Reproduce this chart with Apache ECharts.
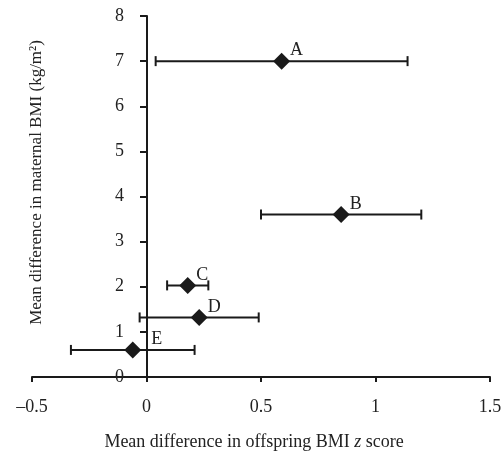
<!DOCTYPE html>
<html>
<head>
<meta charset="utf-8">
<script src="https://cdn.jsdelivr.net/npm/echarts@6/dist/echarts.min.js"></script>
<style>
  html, body { margin: 0; padding: 0; background: #fff; }
  #chart { width: 501px; height: 453px; }
</style>
</head>
<body>
<div id="chart"></div>
<script>
// studies and their estimates
var names = ['A', 'B', 'C', 'D', 'E'];
var zScore = [0.59, 0.85, 0.18, 0.23, -0.06];   // mean diff in offspring BMI z score
var zLow = [0.04, 0.50, 0.09, -0.03, -0.33];
var zHigh = [1.14, 1.20, 0.27, 0.49, 0.21];
var maternalBmi = [7.0, 3.6, 2.03, 1.32, 0.6];  // mean diff in maternal BMI

var xTicks = [-0.5, 0, 0.5, 1, 1.5];
var yTicks = [0, 1, 2, 3, 4, 5, 6, 7, 8];

var ink = '#1a1a1a';
var serif = '"Liberation Serif", "DejaVu Serif", serif';

var chart = echarts.init(document.getElementById('chart'));

var points = names.map(function(n, i) {
    var p = { name: n, value: [zScore[i], maternalBmi[i]] };
    // E sits beside the y axis, its letter is pushed right
    if (n == 'E') p.label = { position: [27, -11] };
    return p;
});
var bars = names.map(function(n, i) {
    return [zLow[i], zHigh[i], maternalBmi[i]];
});

var option = {
    backgroundColor: '#fff',
    animation: false,
    grid: { left: 32, right: 11, top: 16, bottom: 76, outerBoundsMode: 'none', containLabel: false },
    xAxis: {
        type: 'value',
        min: xTicks[0],
        max: xTicks[xTicks.length - 1],
        interval: 0.5,
        splitLine: { show: false },
        axisLine: { onZero: false, lineStyle: { color: ink, width: 2 } },
        axisTick: { length: 5, lineStyle: { color: ink, width: 2 } },
        axisLabel: {
            margin: 21,
            color: '#222',
            fontFamily: serif,
            fontSize: 18,
            formatter: function(v) {
                return v < 0 ? '\u2013' + Math.abs(v) : String(v);
            }
        },
        name: '{n|Mean difference in offspring BMI }{i|z}{n| score}',
        nameLocation: 'middle',
        nameGap: 56,
        nameTextStyle: {
            padding: [0, 14, 0, 0],
            rich: {
                n: { fontFamily: serif, fontSize: 18, color: '#222' },
                i: { fontFamily: serif, fontSize: 18, color: '#222', fontStyle: 'italic' }
            }
        }
    },
    yAxis: {
        type: 'value',
        min: yTicks[0],
        max: yTicks[yTicks.length - 1],
        interval: 1,
        offset: -115,   // put the axis at x = 0
        splitLine: { show: false },
        axisLine: { onZero: false, lineStyle: { color: ink, width: 2 } },
        axisTick: { length: 7, lineStyle: { color: ink, width: 2 } },
        axisLabel: {
            margin: 23,
            color: '#222',
            fontFamily: serif,
            fontSize: 18
        },
        name: 'Mean difference in maternal BMI (kg/m\u00b2)',
        nameLocation: 'middle',
        nameGap: 102,
        nameTextStyle: { fontFamily: serif, fontSize: 17, color: '#222', padding: [0, 0, 0, 28] }
    },
    series: [{
        type: 'custom',
        data: bars,
        z: 2,
        renderItem: function(params, api) {
            var lo = api.coord([api.value(0), api.value(2)]);
            var hi = api.coord([api.value(1), api.value(2)]);
            var h = 5;
            var st = { stroke: ink, lineWidth: 2 };
            return {
                type: 'group',
                children: [
                    { type: 'line', shape: { x1: lo[0], y1: lo[1], x2: hi[0], y2: hi[1] }, style: st },
                    { type: 'line', shape: { x1: lo[0], y1: lo[1] - h, x2: lo[0], y2: lo[1] + h }, style: st },
                    { type: 'line', shape: { x1: hi[0], y1: hi[1] - h, x2: hi[0], y2: hi[1] + h }, style: st }
                ]
            };
        }
    }, {
        type: 'scatter',
        data: points,
        z: 3,
        symbol: 'diamond',
        symbolSize: 17,
        itemStyle: { color: ink, opacity: 1 },
        label: {
            show: true,
            formatter: '{b}',
            position: [17, -11],
            align: 'left',
            verticalAlign: 'top',
            color: '#222',
            fontFamily: serif,
            fontSize: 18
        }
    }]
};

chart.setOption(option);
</script>
</body>
</html>
